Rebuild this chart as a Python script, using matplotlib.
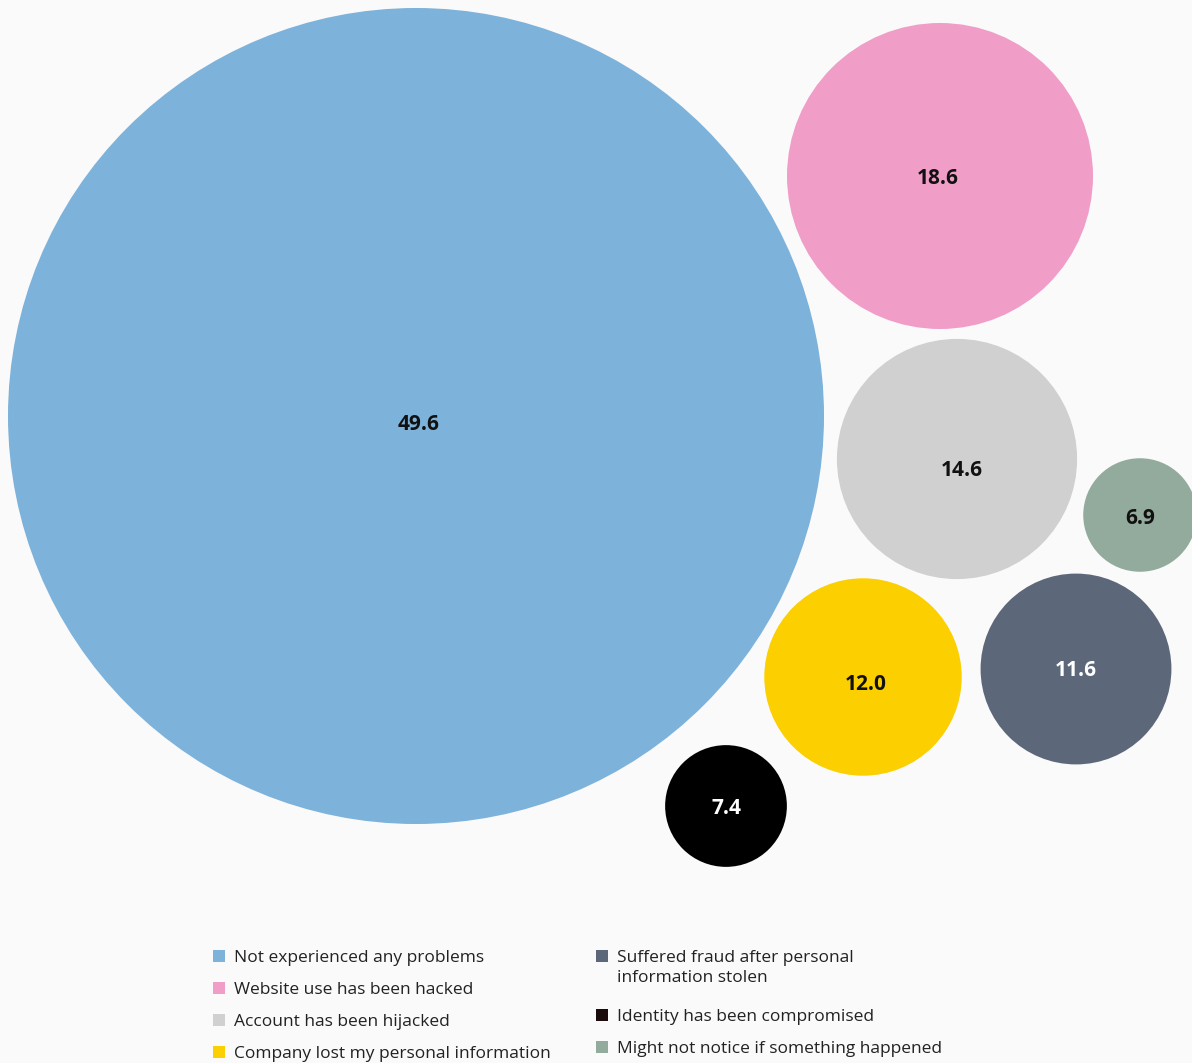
import matplotlib
matplotlib.use("Agg")
import matplotlib.pyplot as plt
from matplotlib.patches import Circle, Rectangle

# ── data ─────────────────────────────────────────────────────────────────────
categories = [
    "Not experienced any problems",
    "Website use has been hacked",
    "Account has been hijacked",
    "Company lost my personal information",
    "Suffered fraud after personal\ninformation stolen",
    "Identity has been compromised",
    "Might not notice if something happened",
]
values = [49.6, 18.6, 14.6, 12.0, 11.6, 7.4, 6.9]

colors = ["#7db2db", "#f09ec7", "#cfd0cf", "#fbcf00", "#5c6779", "#000000", "#92ab9c"]
label_colors = ["#111111", "#111111", "#111111", "#111111", "white", "white", "#111111"]

# bubble centres (pixel layout), radius is proportional to the value
centres = [(416, 416), (940, 176), (957, 459), (863, 677), (1076, 669), (726, 806), (1140, 515)]
label_nudge = [(3, 6), (-2, 1), (5, 10), (3, 5), (0, 0), (0, 0), (0, 1)]
PX_PER_UNIT = 408 / 49.6

# legend layout: (square x, text x, row y)
legend_pos = [
    (219, 234, 956), (219, 234, 988), (219, 234, 1020), (219, 234, 1052),
    (602, 617, 956), (602, 617, 1015), (602, 617, 1047),
]

plt.rcParams["font.family"] = ["Open Sans", "DejaVu Sans"]

W, H = 1192, 1063
fig = plt.figure(figsize=(W / 100, H / 100), dpi=100)
fig.patch.set_facecolor("#fafafa")
ax = fig.add_axes([0, 0, 1, 1])
ax.set_xlim(0, W)
ax.set_ylim(H, 0)
ax.set_aspect("equal")
ax.axis("off")

for v, c, tc, (cx, cy), (dx, dy) in zip(values, colors, label_colors, centres, label_nudge):
    ax.add_patch(Circle((cx, cy), v * PX_PER_UNIT, facecolor=c, edgecolor="none"))
    ax.text(cx + dx, cy + dy + 2, f"{v:.1f}", ha="center", va="center",
            fontsize=15, fontweight="bold", color=tc)

legend_sq_colors = colors[:5] + ["#1a0a0c"] + colors[6:]
for name, c, (sx, tx, y) in zip(categories, legend_sq_colors, legend_pos):
    ax.add_patch(Rectangle((sx - 6, y - 6), 12, 12, facecolor=c, edgecolor="none"))
    ax.text(tx, y - 6, name, ha="left", va="top", fontsize=12.5,
            color="#222222", linespacing=1.35)

plt.savefig("out.png", dpi=100, facecolor=fig.get_facecolor())
